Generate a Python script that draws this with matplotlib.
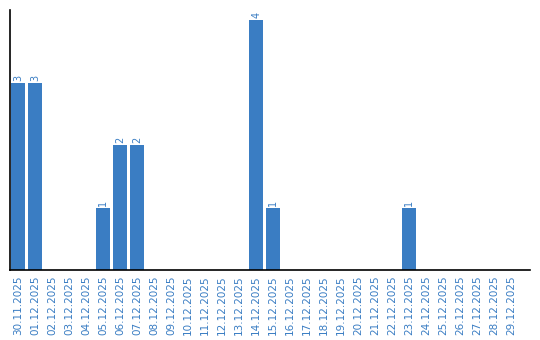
import matplotlib
matplotlib.use('Agg')
import matplotlib.pyplot as plt

# Daily counts, 30.11.2025 - 29.12.2025
dates = ['30.11.2025'] + ['%02d.12.2025' % d for d in range(1, 30)]
counts = [3, 3, 0, 0, 0, 1, 2, 2, 0, 0,
          0, 0, 0, 0, 4, 1, 0, 0, 0, 0,
          0, 0, 0, 1, 0, 0, 0, 0, 0, 0]

bar_color = '#3a7dc3'
text_color = '#3a7dc3'

fig = plt.figure(figsize=(5.4, 3.4), dpi=100)
ax = fig.add_axes([10 / 540, 70 / 340, 520 / 540, 260 / 340])

x = range(len(dates))
ax.bar(x, counts, width=0.82, color=bar_color)

# value labels above the non-zero bars
for i, v in enumerate(counts):
    if v > 0:
        ax.text(i, v + 0.03, str(v), rotation=90, ha='center', va='bottom',
                fontsize=7, color=text_color)

ax.set_xlim(-0.47, 30.1)
ax.set_ylim(0, 4.16)
ax.set_xticks(list(x))
ax.set_xticklabels(dates, rotation=90, fontsize=7.5, color=text_color)
ax.tick_params(axis='x', length=0, pad=4)
ax.set_yticks([])

for side in ['top', 'right']:
    ax.spines[side].set_visible(False)
ax.spines['left'].set_linewidth(1.2)
ax.spines['bottom'].set_linewidth(1.2)

fig.savefig('out.png', dpi=100)
